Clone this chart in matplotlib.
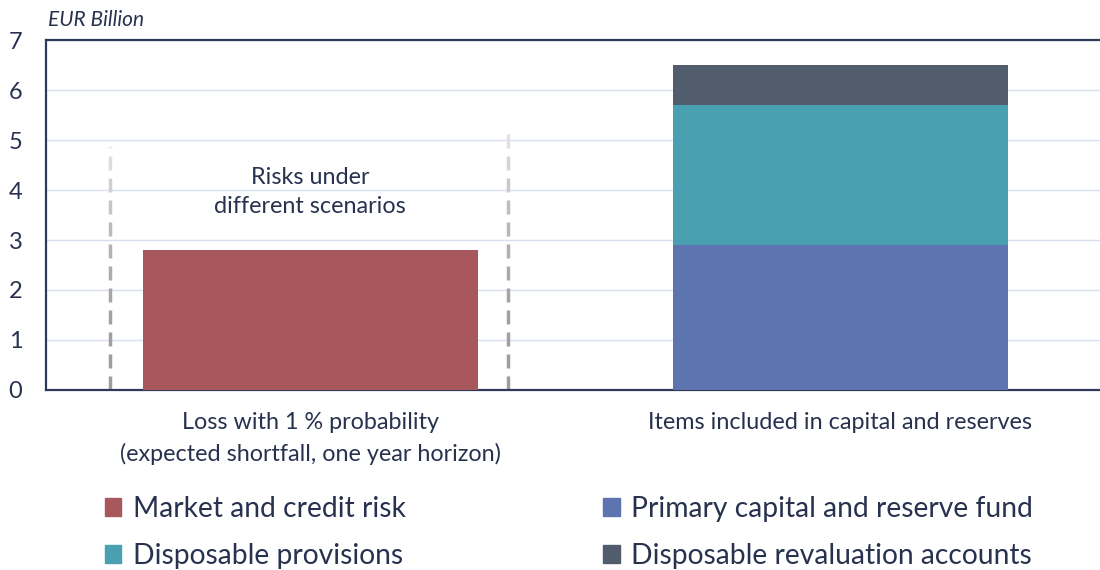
import numpy as np
import matplotlib
matplotlib.use('Agg')
import matplotlib.pyplot as plt
from matplotlib.patches import Patch
from matplotlib.collections import LineCollection
from matplotlib.colors import to_rgb

plt.rcParams['font.family'] = ['Lato', 'DejaVu Sans']

# data (EUR billion)
categories = ['Loss with 1 % probability\n(expected shortfall, one year horizon)',
              'Items included in capital and reserves']
market_credit_risk = [2.8, 0.0]
primary_capital = [0.0, 2.9]
disposable_provisions = [0.0, 2.8]
revaluation_accounts = [0.0, 0.8]

series_labels = ['Market and credit risk', 'Primary capital and reserve fund',
                 'Disposable provisions', 'Disposable revaluation accounts']
series_colors = ['#A8575C', '#5E74B0', '#48A0B0', '#515C6C']

annotation_text = 'Risks under\ndifferent scenarios'
annotation_y = 3.96
# dashed bracket lines around the risk bar: (x, top)
bracket_lines = [(-0.378, 4.88), (0.373, 5.2)]

text_color = '#28324F'
grid_color = '#D9E0EE'
spine_color = '#2F3A5A'

fig = plt.figure(figsize=(11, 5.7), dpi=100)
ax = fig.add_axes([0.0418, 0.3158, 0.958, 0.614])

x = np.arange(len(categories))
width = 0.632

ax.bar(x, market_credit_risk, width, color=series_colors[0], zorder=3)
ax.bar(x, primary_capital, width, color=series_colors[1], zorder=3)
ax.bar(x, disposable_provisions, width, bottom=primary_capital,
       color=series_colors[2], zorder=3)
bottom2 = np.array(primary_capital) + np.array(disposable_provisions)
ax.bar(x, revaluation_accounts, width, bottom=bottom2,
       color=series_colors[3], zorder=3)

# fading dashed lines
dash, gap = 0.28, 0.16
c_low = np.array(to_rgb('#9E9E9E'))
c_high = np.array(to_rgb('#EDEDED'))
for bx, top in bracket_lines:
    starts = np.arange(0, top, dash + gap)
    segs = [[(bx, s), (bx, min(s + dash, top))] for s in starts]
    frac = starts / top
    cols = [c_low + (c_high - c_low) * (f ** 2.2) for f in frac]
    lc = LineCollection(segs, colors=cols, linewidths=2.5, zorder=2,
                        capstyle='butt')
    ax.add_collection(lc)

ax.text(0, annotation_y, annotation_text, ha='center', va='center',
        fontsize=16.8, color=text_color, linespacing=1.45)

ax.set_xlim(-0.499, 1.49)
ax.set_ylim(0, 7)
ax.set_yticks(range(0, 8))
ax.set_xticks(x)
ax.set_xticklabels(categories, fontsize=16.8, color=text_color, linespacing=1.55)
ax.tick_params(axis='x', length=0, pad=16)
ax.tick_params(axis='y', length=0, pad=17, labelsize=17, labelcolor=text_color)
ax.grid(axis='y', color=grid_color, linewidth=1, zorder=0)

for side in ['left', 'bottom', 'top']:
    ax.spines[side].set_color(spine_color)
    ax.spines[side].set_linewidth(1.6)
ax.spines['right'].set_visible(False)

fig.text(0.044, 0.965, 'EUR Billion', fontsize=15, style='italic',
         color=text_color, ha='left', va='center')

handles = [Patch(color=c) for c in series_colors]
leg_kw = dict(frameon=False, fontsize=20.3, handlelength=0.6, handleheight=0.6,
              handletextpad=0.4, labelspacing=0.72, labelcolor=text_color,
              borderpad=0, borderaxespad=0)
leg1 = fig.legend([handles[0], handles[2]], [series_labels[0], series_labels[2]],
                  loc='center left', bbox_to_anchor=(0.095, 0.066), **leg_kw)
leg2 = fig.legend([handles[1], handles[3]], [series_labels[1], series_labels[3]],
                  loc='center left', bbox_to_anchor=(0.548, 0.066), **leg_kw)

fig.savefig('out.png', dpi=100)
